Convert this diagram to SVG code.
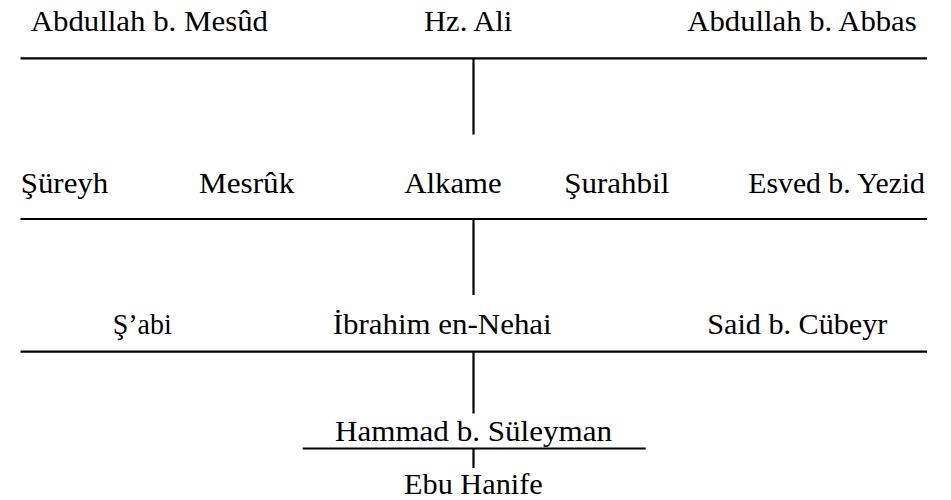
<svg xmlns="http://www.w3.org/2000/svg" width="951" height="500" viewBox="0 0 951 500">
  <style>
    text { font-family: "Liberation Serif", "DejaVu Serif", serif; font-size: 30px; fill: #000; }
    .ln { stroke: #000; stroke-width: 2.2; fill: none; }
  </style>
  <rect width="951" height="500" fill="#fff"/>
  <g id="connectors">
    <line class="ln" x1="20.5" y1="58.3" x2="927" y2="58.3"/>
    <line class="ln" x1="473.5" y1="58.3" x2="473.5" y2="134.5"/>
    <line class="ln" x1="20.5" y1="219" x2="927" y2="219"/>
    <line class="ln" x1="473.5" y1="219" x2="473.5" y2="295"/>
    <line class="ln" x1="20.5" y1="351.7" x2="927" y2="351.7"/>
    <line class="ln" x1="473.5" y1="351.7" x2="473.5" y2="413.5"/>
    <line class="ln" x1="302.7" y1="448.5" x2="645.7" y2="448.5"/>
    <line class="ln" x1="473.5" y1="448.5" x2="473.5" y2="468"/>
  </g>
  <g id="abdullah-mesud"><text x="30.7" y="31" textLength="237.3" lengthAdjust="spacingAndGlyphs">Abdullah b. Mesûd</text></g>
  <g id="hz-ali"><text x="424" y="31" textLength="88.3" lengthAdjust="spacingAndGlyphs">Hz. Ali</text></g>
  <g id="abdullah-abbas"><text x="687.3" y="31" textLength="229.4" lengthAdjust="spacingAndGlyphs">Abdullah b. Abbas</text></g>
  <g id="sureyh"><text x="20.7" y="193.3" textLength="87.6" lengthAdjust="spacingAndGlyphs">Şüreyh</text></g>
  <g id="mesruk"><text x="199" y="193.3" textLength="95.3" lengthAdjust="spacingAndGlyphs">Mesrûk</text></g>
  <g id="alkame"><text x="404.3" y="193.3" textLength="97.4" lengthAdjust="spacingAndGlyphs">Alkame</text></g>
  <g id="surahbil"><text x="564.3" y="193.3" textLength="105" lengthAdjust="spacingAndGlyphs">Şurahbil</text></g>
  <g id="esved"><text x="748.3" y="193.3" textLength="176.7" lengthAdjust="spacingAndGlyphs">Esved b. Yezid</text></g>
  <g id="sabi"><text x="112.7" y="333.5" textLength="59" lengthAdjust="spacingAndGlyphs">Ş’abi</text></g>
  <g id="ibrahim"><text x="332.7" y="333.5" textLength="219" lengthAdjust="spacingAndGlyphs">İbrahim en-Nehai</text></g>
  <g id="said"><text x="707.3" y="333.5" textLength="180" lengthAdjust="spacingAndGlyphs">Said b. Cübeyr</text></g>
  <g id="hammad"><text x="335" y="440.5" textLength="277" lengthAdjust="spacingAndGlyphs">Hammad b. Süleyman</text></g>
  <g id="ebu-hanife"><text x="404" y="494" textLength="138.7" lengthAdjust="spacingAndGlyphs">Ebu Hanife</text></g>
</svg>
